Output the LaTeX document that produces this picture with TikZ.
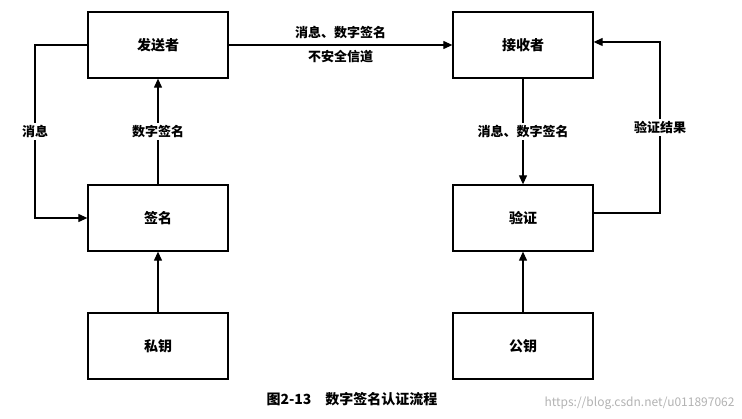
\documentclass[tikz,border=0pt]{standalone}
\usepackage{fontspec}
\setmainfont{Noto Sans CJK SC}
\usetikzlibrary{arrows.meta}
\begin{document}
\begin{tikzpicture}[x=1pt,y=-1pt,
  box/.style={draw,line width=1.3pt,minimum width=140pt,minimum height=66pt,font=\fontsize{14}{16}\selectfont\bfseries},
  arr/.style={line width=1.1pt,-{Triangle[length=9pt,width=8pt]}},
  lbl/.style={fill=white,font=\fontsize{13}{15}\selectfont\bfseries,inner sep=2pt}]
\useasboundingbox (0,0) rectangle (742,419);
\node[box] (s) at (158,45) {发送者};
\node[box] (q) at (158,218) {签名};
\node[box] (p) at (158,346) {私钥};
\node[box] (r) at (523,45) {接收者};
\node[box] (v) at (523,218) {验证};
\node[box] (g) at (523,346) {公钥};
\draw[arr] (s.east) -- node[font=\fontsize{13}{24}\selectfont\bfseries,align=center] (t) {消息、数字签名\\不安全信道} (r.west);
\coordinate (c1) at (35,45);\coordinate (c2) at (35,218);
\draw[arr] (s.west) -- (c1) -- node[lbl] (l1) {消息} (c2) -- (q.west);
\draw[arr] (q.north) -- node[lbl] (l2) {数字签名} (s.south);
\draw[arr] (p.north) -- (q.south);
\draw[arr] (r.south) -- node[lbl] (l3) {消息、数字签名} (v.north);
\draw[arr] (g.north) -- (v.south);
\coordinate (c3) at (660,213);\coordinate (c4) at (660,42);
\draw[arr] (v.east|-c3) -- (c3) -- node[lbl] (l4) {验证结果} (c4) -- (r.east|-c4);
\node[font=\fontsize{14}{16}\selectfont\bfseries] (cap) at (352,399) {图2-13\quad 数字签名认证流程};
\node[font=\fontsize{12}{14}\selectfont,text=black!30,anchor=east] (w) at (738,403) {https://blog.csdn.net/u011897062};
\end{tikzpicture}
\end{document}
